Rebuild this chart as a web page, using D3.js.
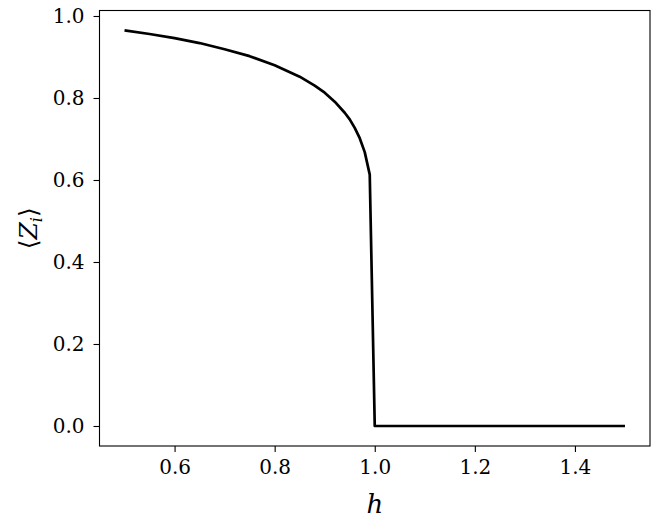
<!DOCTYPE html>
<html>
<head>
<meta charset="utf-8">
<script src="https://cdn.jsdelivr.net/npm/d3@7"></script>
<style>
  body { margin: 0; background: #fff; }
  svg { display: block; }
  .axis text { font-family: "DejaVu Serif", serif; font-size: 20px; fill: #000; }
  .axis path, .axis line { stroke: #000; stroke-width: 1.1; }
</style>
</head>
<body>
<svg id="chart"></svg>
<script>
// field strength h and magnetisation <Z_i>
const hValues = [0.50, 0.55, 0.60, 0.65, 0.70, 0.75, 0.80, 0.85, 0.88, 0.90, 0.92, 0.94, 0.95, 0.96, 0.97, 0.98, 0.99, 1.00, 1.50];
const zValues = [0.965, 0.956, 0.946, 0.934, 0.919, 0.902, 0.880, 0.852, 0.830, 0.813, 0.791, 0.764, 0.748, 0.727, 0.702, 0.668, 0.613, 0.0, 0.0];
const xTicks = [0.6, 0.8, 1.0, 1.2, 1.4];
const yTicks = [0.0, 0.2, 0.4, 0.6, 0.8, 1.0];

const width = 664, height = 525;
const margin = { top: 10.5, right: 14, bottom: 79, left: 99.5 };

const svg = d3.select("#chart")
  .attr("width", width)
  .attr("height", height);

const xScale = d3.scaleLinear()
  .domain([0.45, 1.55])
  .range([margin.left, width - margin.right]);

const yScale = d3.scaleLinear()
  .domain([-0.0488, 1.0134])
  .range([height - margin.bottom, margin.top]);

const data = hValues.map((h, i) => ({ h: h, z: zValues[i] }));

// curve
svg.append("path")
  .datum(data)
  .attr("fill", "none")
  .attr("stroke", "#000")
  .attr("stroke-width", 2.7)
  .attr("stroke-linejoin", "round")
  .attr("d", d3.line().x(d => xScale(d.h)).y(d => yScale(d.z)));

// frame
svg.append("rect")
  .attr("x", margin.left)
  .attr("y", margin.top)
  .attr("width", width - margin.right - margin.left)
  .attr("height", height - margin.bottom - margin.top)
  .attr("fill", "none")
  .attr("stroke", "#000")
  .attr("stroke-width", 1.1);

const xAxis = d3.axisBottom(xScale)
  .tickValues(xTicks)
  .tickFormat(d3.format(".1f"))
  .tickSize(6)
  .tickPadding(8);
svg.append("g")
  .attr("class", "axis")
  .attr("transform", `translate(0, ${height - margin.bottom})`)
  .call(xAxis)
  .call(g => g.select(".domain").remove());

const yAxis = d3.axisLeft(yScale)
  .tickValues(yTicks)
  .tickFormat(d3.format(".1f"))
  .tickSize(6)
  .tickPadding(9);
svg.append("g")
  .attr("class", "axis")
  .attr("transform", `translate(${margin.left}, 0)`)
  .call(yAxis)
  .call(g => g.select(".domain").remove());

// axis labels
svg.append("text")
  .attr("x", xScale(1.0))
  .attr("y", 513)
  .attr("text-anchor", "middle")
  .style("font-family", "'DejaVu Serif', serif")
  .style("font-style", "italic")
  .style("font-size", "26px")
  .text("h");

const yLabel = svg.append("text")
  .attr("transform", `translate(37, ${(margin.top + height - margin.bottom) / 2}) rotate(-90)`)
  .attr("text-anchor", "middle")
  .style("font-family", "'DejaVu Serif', serif")
  .style("font-size", "25px");
yLabel.append("tspan").text("\u27E8");
yLabel.append("tspan").style("font-style", "italic").text("Z");
yLabel.append("tspan").style("font-style", "italic").style("font-size", "16px").attr("dy", 5).text("i");
yLabel.append("tspan").attr("dy", -5).text("\u27E9");
</script>
</body>
</html>
